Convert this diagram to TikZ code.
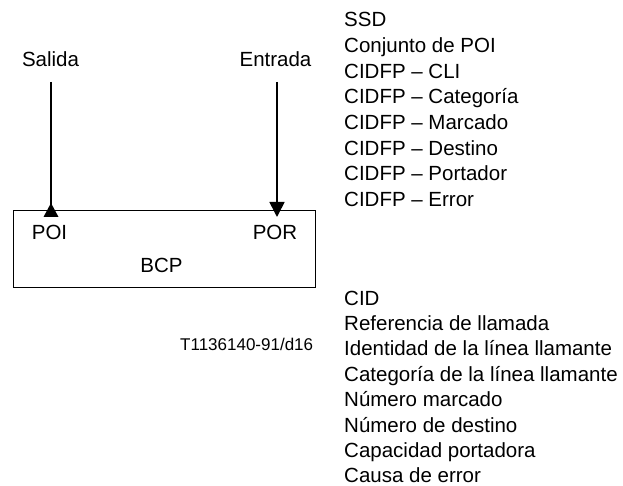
\documentclass[tikz,border=0pt]{standalone}
\usepackage{fontspec}
\setmainfont{Liberation Sans}
\usetikzlibrary{arrows.meta}
\begin{document}
\begin{tikzpicture}[x=1pt,y=-1pt,
  txt/.style={font=\fontsize{20.5}{24}\selectfont, inner sep=0pt},
  small/.style={font=\fontsize{17}{20}\selectfont, inner sep=0pt},
  conn/.style={line width=1.6pt},
  boxst/.style={draw, line width=1pt, inner sep=0pt, minimum width=302pt, minimum height=77pt}]
\useasboundingbox (0,0) rectangle (623,486);
% box
\node[boxst, anchor=north west] (bcp) at (13,210) {};
\node[txt, anchor=base] (bcpl) at (161.5,272) {BCP};
\node[txt, anchor=base] (poi) at (49.5,240) {POI};
\node[txt, anchor=base] (por) at (275,240) {POR};
% top labels
\node[txt, anchor=base] (salida) at (50.5,67) {Salida};
\node[txt, anchor=base] (entrada) at (275.5,67) {Entrada};
% connectors
\coordinate (sTop) at (51,82);
\coordinate (sBot) at (51,210);
\coordinate (sTip) at (51,203);
\coordinate (eTop) at (277,82);
\coordinate (eTip) at (277,217);
\draw[conn] (sTop) -- (sBot);
\fill (sTip) -- ++(-7.5,14) -- ++(15,0) -- cycle;
\draw[conn, -{Triangle[width=15pt,length=15pt]}] (eTop) -- (eTip);
% right list top
\foreach \t [count=\i] in {SSD,Conjunto de POI,CIDFP -- CLI,CIDFP -- Categoría,CIDFP -- Marcado,CIDFP -- Destino,CIDFP -- Portador,CIDFP -- Error}
  \node[txt, anchor=base west] (top\i) at (344,{26.7+25.7*(\i-1)}) {\t};
% right list bottom
\foreach \t [count=\i] in {CID,Referencia de llamada,Identidad de la línea llamante,Categoría de la línea llamante,Número marcado,Número de destino,Capacidad portadora,Causa de error}
  \node[txt, anchor=base west] (bot\i) at (344,{305+25.4*(\i-1)}) {\t};
\node[small, anchor=base west] (ref) at (180,350) {T1136140-91/d16};
\end{tikzpicture}
\end{document}
